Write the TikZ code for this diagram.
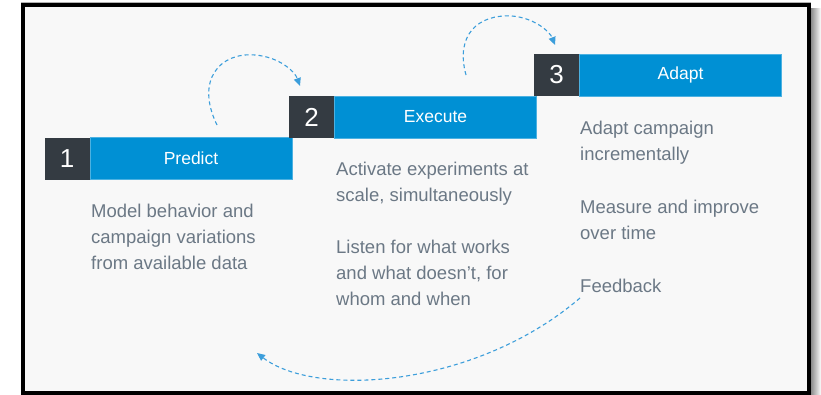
\documentclass[tikz,border=0pt]{standalone}
\usepackage{fontspec}
\setmainfont{Liberation Sans}
\usetikzlibrary{arrows.meta}
\definecolor{bg}{HTML}{F8F8F8}
\definecolor{darkbox}{HTML}{343B42}
\definecolor{blu}{HTML}{0090D4}
\definecolor{txt}{HTML}{6B7885}
\definecolor{arr}{HTML}{3C9EDB}
\begin{document}
\begin{tikzpicture}[x=1pt,y=-1pt,
 numbox/.style={fill=darkbox, text=white, minimum width=45pt, minimum height=42pt, inner sep=0pt, font=\fontsize{26}{26}\selectfont},
 labbox/.style={fill=blu, draw=blu!70!white, line width=0.6pt, text=white, minimum width=202pt, minimum height=42pt, inner sep=0pt, font=\fontsize{17.5}{17.5}\selectfont, anchor=west},
 desc/.style={text=txt, align=left, anchor=base west, inner sep=0pt, font=\fontsize{18.5}{26.3}\selectfont},
 flow/.style={arr, line width=1.1pt, dash pattern=on 4pt off 3pt, -{Triangle[length=8pt,width=7pt]}}
]
\useasboundingbox (0,0) rectangle (821,394);
\fill[white] (0,0) rectangle (821,394);
\shade[left color=black!45, right color=white] (811,8) rectangle (821,394);
\draw[black!30, line width=1pt] (21,2) -- (811,2);
\fill[bg] (23,5) rectangle (809,392.5);
\draw[black, line width=4pt] (23,5) rectangle (809,392.5);

% boxes
\node[numbox] (n1) at (67,158.5) {1};
\node[labbox] (p1) at (n1.east) {Predict};
\node[numbox] (n2) at (311.5,117) {2};
\node[labbox] (p2) at (n2.east) {Execute};
\node[numbox] (n3) at (556.5,75) {3};
\node[labbox] (p3) at (n3.east) {Adapt};

% descriptions (anchor = baseline of the last line)
\node[desc] (d1) at (91,269.6) {Model behavior and\\campaign variations\\from available data};
\node[desc] (d2) at (336,201.3) {Activate experiments at\\scale, simultaneously};
\node[desc] (d2b) at (336,305.6) {Listen for what works\\and what doesn’t, for\\whom and when};
\node[desc] (d3) at (580,160.3) {Adapt campaign\\incrementally};
\node[desc] (d3b) at (580,239.3) {Measure and improve\\over time};
\node[desc] (fb) at (580,292) {Feedback};

% arrows
\coordinate (a1s) at (217,125);
\coordinate (a1e) at (300,86);
\coordinate (a2s) at (466,75);
\coordinate (a2e) at (555,45);
\coordinate (a3s) at (580,298);
\coordinate (a3e) at (257,353);
\draw[flow] (a1s) .. controls (195,80) and (220,52) .. (255,55) .. controls (280,57) and (295,72) .. (a1e);
\draw[flow] (a2s) .. controls (455,35) and (478,14) .. (512,16) .. controls (535,18) and (550,32) .. (a2e);
\draw[flow] (a3s) .. controls (475,388) and (315,398) .. (a3e);
\end{tikzpicture}
\end{document}
